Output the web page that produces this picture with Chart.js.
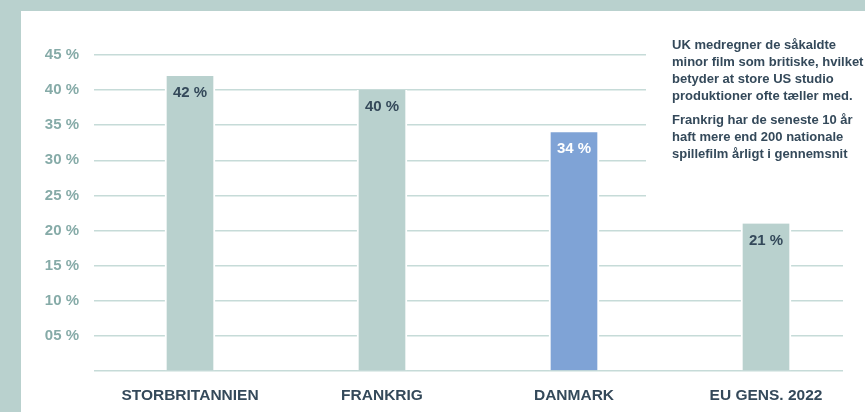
<!DOCTYPE html>
<html><head><meta charset="utf-8">
<script src="https://cdn.jsdelivr.net/npm/chart.js@4/dist/chart.umd.min.js"></script>
<style>html,body{margin:0;padding:0;background:#b9d1ce;}#wrap{width:865px;height:412px;position:relative;}</style>
</head><body><div id="wrap"><canvas id="c" width="865" height="412"></canvas></div>
<script>
const categories = ['STORBRITANNIEN', 'FRANKRIG', 'DANMARK', 'EU GENS. 2022'];
const shares = [42, 40, 34, 21];
const barColors = ['#b9d1ce', '#b9d1ce', '#7fa3d6', '#b9d1ce'];
const valueLabelColors = ['#34495a', '#34495a', '#ffffff', '#34495a'];
const yTicks = [0, 5, 10, 15, 20, 25, 30, 35, 40, 45];
const noteLines = [
  'UK medregner de såkaldte',
  'minor film som britiske, hvilket',
  'betyder at store US studio',
  'produktioner ofte tæller med.',
  'Frankrig har de seneste 10 år',
  'haft mere end 200 nationale',
  'spillefilm årligt i gennemsnit'
];
const noteLineY = [45, 62, 79, 96, 120, 137, 154];
const FONT = '"Liberation Sans", Arial, sans-serif';

const panelPlugin = {
  id: 'panel',
  beforeDraw(chart) {
    const ctx = chart.ctx;
    ctx.save();
    ctx.fillStyle = '#b9d1ce';
    ctx.fillRect(0, 0, chart.width, chart.height);
    ctx.fillStyle = '#ffffff';
    ctx.fillRect(21, 11, chart.width - 21, chart.height - 11);
    ctx.restore();
  },
  beforeDatasetsDraw(chart) {
    const ctx = chart.ctx;
    ctx.save();
    ctx.fillStyle = '#ffffff';
    ctx.fillRect(646, 11, chart.width - 646, 202);
    ctx.fillRect(843, 11, chart.width - 843, chart.height - 11);
    ctx.fillStyle = '#34495a';
    ctx.font = 'bold 13px ' + FONT;
    ctx.textBaseline = 'middle';
    ctx.textAlign = 'left';
    noteLines.forEach((t, i) => { ctx.fillText(t, 672, noteLineY[i]); });
    ctx.restore();
  },
  afterDatasetsDraw(chart) {
    const ctx = chart.ctx;
    const meta = chart.getDatasetMeta(0);
    ctx.save();
    ctx.font = 'bold 15px ' + FONT;
    ctx.textAlign = 'center';
    ctx.textBaseline = 'middle';
    meta.data.forEach((bar, i) => {
      ctx.fillStyle = valueLabelColors[i];
      ctx.fillText(shares[i] + ' %', bar.x, bar.y + 17);
    });
    ctx.restore();
  }
};

new Chart(document.getElementById('c'), {
  type: 'bar',
  data: {
    labels: categories,
    datasets: [{
      data: shares,
      backgroundColor: barColors,
      borderColor: '#ffffff',
      borderWidth: {left: 2, right: 2, top: 0, bottom: 0},
      borderSkipped: false,
      barThickness: 50
    }]
  },
  options: {
    responsive: false,
    animation: false,
    devicePixelRatio: 1,
    layout: {padding: {top: 55, right: 3, left: 0, bottom: 0}},
    plugins: {legend: {display: false}, tooltip: {enabled: false}},
    scales: {
      x: {
        grid: {display: false, drawTicks: false},
        border: {display: false},
        ticks: {color: '#34495a', font: {family: FONT, size: 15.5, weight: 'bold'}, padding: 15, maxRotation: 0},
        afterFit(s) { s.height = 41; }
      },
      y: {
        min: 0, max: 45,
        afterBuildTicks(s) { s.ticks = yTicks.map(v => ({value: v})); },
        grid: {color: '#c6dbd8', lineWidth: 1.5, drawTicks: false},
        border: {display: false},
        ticks: {
          color: '#86aba8',
          font: {family: FONT, size: 15, weight: 'bold'},
          padding: 15,
          callback: v => v === 0 ? '' : (v < 10 ? '0' + v : String(v)) + ' %'
        },
        afterFit(s) { s.width = 94; }
      }
    }
  },
  plugins: [panelPlugin]
});
</script>
</body></html>
